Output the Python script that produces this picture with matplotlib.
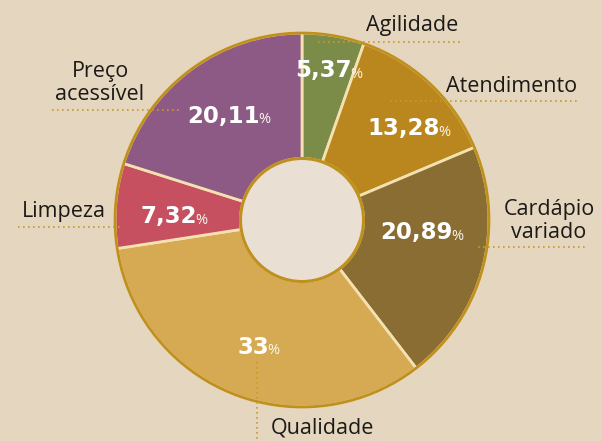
import matplotlib
matplotlib.use('Agg')
import matplotlib.pyplot as plt
from matplotlib.patches import Circle

# dados
categorias = ['Agilidade', 'Atendimento', 'Cardápio\nvariado', 'Qualidade', 'Limpeza', 'Preço\nacessível']
valores = [5.37, 13.28, 20.89, 33, 7.32, 20.11]
rotulos = ['5,37', '13,28', '20,89', '33', '7,32', '20,11']
cores = ['#7b8b48', '#b9871d', '#8a6d33', '#d5aa52', '#c6505f', '#8d5a85']

W, H = 602, 441
BG = '#e5d6bf'
OURO = '#c0901f'

def Y(y):
    # pixel vindo de cima -> coordenada do eixo
    return H - y

fig = plt.figure(figsize=(W / 100, H / 100), dpi=100)
fig.patch.set_facecolor(BG)
ax = fig.add_axes([0, 0, 1, 1])

cx, cy = 302, 220
r_ext, r_int = 187, 61.5

ax.pie(valores, colors=cores, startangle=90, counterclock=False,
       center=(cx, Y(cy)), radius=r_ext, frame=True,
       wedgeprops=dict(width=r_ext - r_int, edgecolor='#f4e1b2', linewidth=2))
ax.set_xlim(0, W)
ax.set_ylim(0, H)
ax.set_aspect('equal')
ax.axis('off')

ax.add_patch(Circle((cx, Y(cy)), r_ext, fill=False, edgecolor=OURO, linewidth=2, zorder=5))
ax.add_patch(Circle((cx, Y(cy)), r_int, facecolor='#e9dfd2', edgecolor=OURO, linewidth=2.2, zorder=5))

# valores dentro das fatias (x = fim do número, y = centro)
pos_num = [(352, 71), (440, 129), (453, 233), (269, 347), (197, 217), (260, 116)]
for (x, y), t in zip(pos_num, rotulos):
    tn = ax.text(x, Y(y), t, ha='right', va='center', color='white',
                 fontsize=16.5, fontweight='bold', family='DejaVu Sans', zorder=6)
    ax.annotate('%', xy=(1, 0.2), xycoords=tn, xytext=(-1, 0), textcoords='offset points',
                ha='left', va='baseline', color='#fbf7f0', fontsize=10.5,
                family=['Open Sans', 'DejaVu Sans'], zorder=6)

# rótulos externos
flab = ['Open Sans', 'DejaVu Sans']
kw = dict(color='#1c1a17', fontsize=15.5, family=flab, linespacing=1.1)
ax.text(366, Y(26), 'Agilidade', ha='left', va='center', **kw)
ax.text(446, Y(86), 'Atendimento', ha='left', va='center', **kw)
ax.text(549, Y(221), 'Cardápio\nvariado', ha='center', va='center', **kw)
ax.text(271, Y(428), 'Qualidade', ha='left', va='center', **kw)
ax.text(22, Y(212), 'Limpeza', ha='left', va='center', **kw)
ax.text(100, Y(83), 'Preço\nacessível', ha='center', va='center', **kw)

# linhas pontilhadas
lk = dict(color='#c79a2c', linewidth=1.2, linestyle=(0, (1, 2)), zorder=7)
ax.plot([318, 463], [Y(42), Y(42)], **lk)
ax.plot([390, 578], [Y(101), Y(101)], **lk)
ax.plot([478, 587], [Y(247), Y(247)], **lk)
ax.plot([18, 122], [Y(227), Y(227)], **lk)
ax.plot([52, 182], [Y(110), Y(110)], **lk)
ax.plot([257, 257], [Y(362), Y(441)], **lk)

plt.savefig('out.png', dpi=100, facecolor=BG)
